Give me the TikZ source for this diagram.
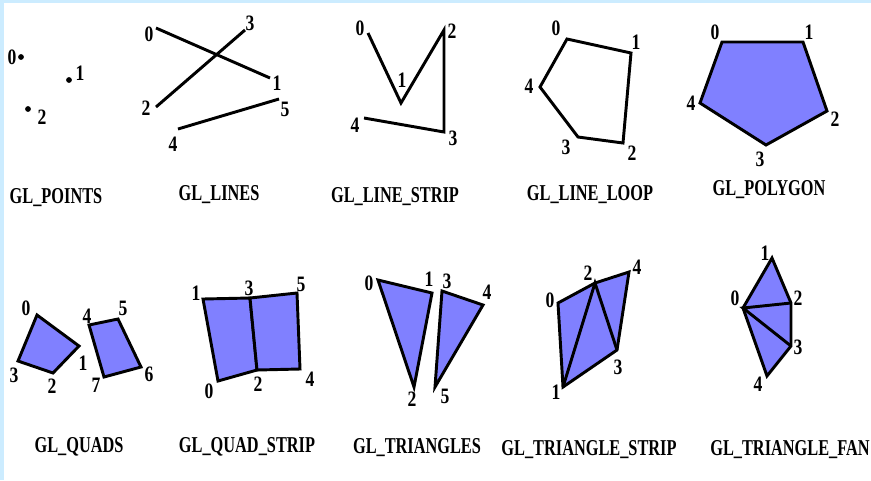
\documentclass[tikz,border=0pt]{standalone}
\usepackage{fontspec}
\newfontfamily\glfont{Liberation Serif}[FakeStretch=0.72]
\newfontfamily\numfont{Liberation Serif}[FakeStretch=0.8]
\definecolor{glfill}{RGB}{128,128,255}
\definecolor{frameblue}{RGB}{204,236,255}
\tikzset{
  edge/.style={line width=2.2pt, line join=miter, black},
  face/.style={edge, fill=glfill},
  num/.style={font=\numfont\bfseries\fontsize{16.5}{16.5}\selectfont, inner sep=0pt},
  caption/.style={font=\glfont\bfseries\fontsize{17}{17}\selectfont, inner sep=0pt, anchor=base}
}
\begin{document}
\begin{tikzpicture}[x=0.75pt, y=-0.75pt]
  % frame
  \fill[frameblue] (0,0) rectangle (871,480);
  \fill[white] (4,3) rectangle (871,480);
  \useasboundingbox (0,0) rectangle (871,480);

  % GL_POINTS
  \foreach \i/\p/\q in {0/{21,57}/{12,57}, 1/{69,80}/{80,73}, 2/{28,109}/{42,117}}{
    \coordinate (pt\i) at (\p);
    \node[num] (ptl\i) at (\q) {\i};
  }
  \foreach \i in {0,1,2} \fill (pt\i) circle (2.9);
  \node[caption] (cpoints) at (56,203) {GL\_POINTS};

  % GL_LINES
  \foreach \i/\p/\q in {0/{156,28}/{149,34}, 1/{270,78}/{277,83}, 2/{156,107}/{146,108},
                        3/{245,30}/{250,23}, 4/{178,129}/{173,144}, 5/{279,99}/{285,109}}{
    \coordinate (ln\i) at (\p);
    \node[num] (lnl\i) at (\q) {\i};
  }
  \draw[edge] (ln0) -- (ln1);
  \draw[edge] (ln2) -- (ln3);
  \draw[edge] (ln4) -- (ln5);
  \node[caption] (clines) at (219,200) {GL\_LINES};

  % GL_LINE_STRIP
  \foreach \i/\p/\q in {0/{368,33}/{360,28}, 1/{401,103}/{402,80}, 2/{444,30}/{452,31},
                        3/{444,132}/{453,138}, 4/{364,118}/{355,125}}{
    \coordinate (ls\i) at (\p);
    \node[num] (lsl\i) at (\q) {\i};
  }
  \draw[edge] (ls0) -- (ls1) -- (ls2) -- (ls3) -- (ls4);
  \node[caption] (cstrip) at (395,202) {GL\_LINE\_STRIP};

  % GL_LINE_LOOP
  \foreach \i/\p/\q in {0/{567,39}/{556,28}, 1/{631,53}/{636,42}, 2/{623,143}/{632,153},
                        3/{578,137}/{566,147}, 4/{540,87}/{529,86}}{
    \coordinate (ll\i) at (\p);
    \node[num] (lll\i) at (\q) {\i};
  }
  \draw[edge] (ll0) -- (ll1) -- (ll2) -- (ll3) -- (ll4) -- cycle;
  \node[caption] (cloop) at (590,200) {GL\_LINE\_LOOP};

  % GL_POLYGON
  \foreach \i/\p/\q in {0/{722,42}/{715,32}, 1/{803,42}/{809,32}, 2/{827,111}/{835,119},
                        3/{766,145}/{760,159}, 4/{700,103}/{691,103}}{
    \coordinate (pg\i) at (\p);
    \node[num] (pgl\i) at (\q) {\i};
  }
  \draw[face] (pg0) -- (pg1) -- (pg2) -- (pg3) -- (pg4) -- cycle;
  \node[caption] (cpolygon) at (769,195) {GL\_POLYGON};

  % GL_QUADS
  \foreach \i/\p/\q in {0/{37,315}/{26,308}, 1/{79,346}/{83,363}, 2/{53,373}/{52,386},
                        3/{18,361}/{14,375}, 4/{89,325}/{87,316}, 5/{118,319}/{123,308},
                        6/{141,367}/{149,374}, 7/{104,377}/{96,385}}{
    \coordinate (qd\i) at (\p);
    \node[num] (qdl\i) at (\q) {\i};
  }
  \draw[face] (qd0) -- (qd1) -- (qd2) -- (qd3) -- cycle;
  \draw[face] (qd4) -- (qd5) -- (qd6) -- (qd7) -- cycle;
  \node[caption] (cquads) at (79,452) {GL\_QUADS};

  % GL_QUAD_STRIP
  \foreach \i/\p/\q in {0/{218,381}/{209,391}, 1/{203,299}/{196,293}, 2/{257,370}/{258,384},
                        3/{250,298}/{249,288}, 4/{300,369}/{310,379}, 5/{297,293}/{301,284}}{
    \coordinate (qs\i) at (\p);
    \node[num] (qsl\i) at (\q) {\i};
  }
  \draw[face] (qs0) -- (qs1) -- (qs3) -- (qs2) -- cycle;
  \draw[face] (qs2) -- (qs3) -- (qs5) -- (qs4) -- cycle;
  \node[caption] (cqstrip) at (247,452) {GL\_QUAD\_STRIP};

  % GL_TRIANGLES
  \foreach \i/\p/\q in {0/{378,280}/{369,283}, 1/{432,293}/{429,279}, 2/{414,387}/{412,399},
                        3/{442,291}/{447,281}, 4/{483,305}/{487,292}, 5/{435,387}/{445,396}}{
    \coordinate (tr\i) at (\p);
    \node[num] (trl\i) at (\q) {\i};
  }
  \draw[face] (tr0) -- (tr1) -- (tr2) -- cycle;
  \draw[face] (tr3) -- (tr4) -- (tr5) -- cycle;
  \node[caption] (ctris) at (417,453) {GL\_TRIANGLES};

  % GL_TRIANGLE_STRIP
  \foreach \i/\p/\q in {0/{558,303}/{550,300}, 1/{563,387}/{556,392}, 2/{595,283}/{588,273},
                        3/{617,350}/{618,367}, 4/{629,272}/{637,267}}{
    \coordinate (ts\i) at (\p);
    \node[num] (tsl\i) at (\q) {\i};
  }
  \draw[face] (ts0) -- (ts2) -- (ts4) -- (ts3) -- (ts1) -- cycle;
  \draw[edge] (ts1) -- (ts2) -- (ts3);
  \node[caption] (ctstrip) at (589,455) {GL\_TRIANGLE\_STRIP};

  % GL_TRIANGLE_FAN
  \foreach \i/\p/\q in {0/{743,308}/{735,298}, 1/{772,258}/{765,253}, 2/{791,303}/{798,298},
                        3/{791,346}/{798,347}, 4/{767,376}/{758,384}}{
    \coordinate (tf\i) at (\p);
    \node[num] (tfl\i) at (\q) {\i};
  }
  \draw[face] (tf0) -- (tf1) -- (tf2) -- (tf3) -- (tf4) -- cycle;
  \draw[edge] (tf2) -- (tf0) -- (tf3);
  \node[caption] (cfan) at (790,455) {GL\_TRIANGLE\_FAN};
\end{tikzpicture}
\end{document}
